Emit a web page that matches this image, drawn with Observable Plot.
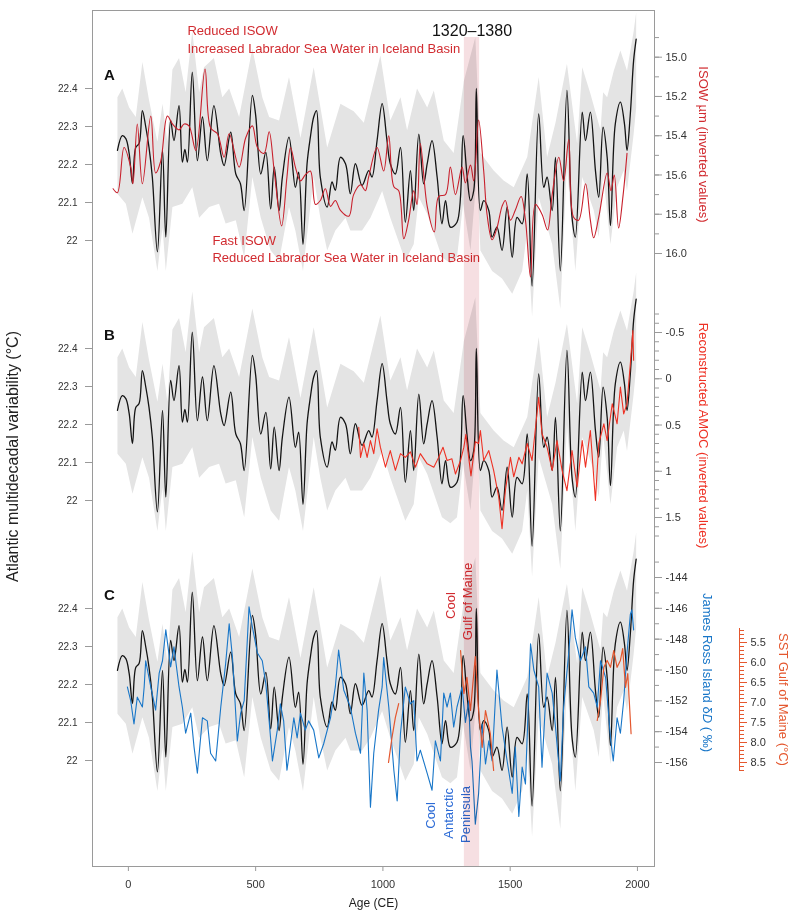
<!DOCTYPE html>
<html><head><meta charset="utf-8">
<script src="https://cdn.jsdelivr.net/npm/d3@7"></script>
<script src="https://cdn.jsdelivr.net/npm/@observablehq/plot@0.6"></script>
<style>
body{margin:0;background:#fff;}
#chart{position:relative;width:794px;height:916px;}
#chart > svg{position:absolute;left:0;top:0;}
</style></head><body><div id="chart"></div>
<script>
// ---------- DATA ----------
const xTicks = [0, 500, 1000, 1500, 2000];
const amvTicks = [22, 22.1, 22.2, 22.3, 22.4];
const isowTicks = [15.0, 15.2, 15.4, 15.6, 15.8, 16.0];
const amocTicks = [-0.5, 0, 0.5, 1, 1.5];
const ddTicks = [-144, -146, -148, -150, -152, -154, -156];
const sstTicks = [5.5, 6.0, 6.5, 7.0, 7.5, 8.0, 8.5];
const panelLetters = ["A", "B", "C"];
const highlight = [{start: 1320, end: 1380}];

// Atlantic multidecadal variability (°C) [year, value]
const amv = [[-43,22.237],[-24,22.276],[-10,22.268],[3,22.229],[16,22.15],[29,22.245],[42,22.255],[55,22.342],[68,22.30],[81,22.245],[94,22.167],[114,21.97],[134,22.237],[147,22.009],[166,22.316],[179,22.263],[199,22.355],[212,22.206],[222,22.24],[232,22.206],[251,22.443],[271,22.21],[291,22.325],[310,22.21],[336,22.355],[363,22.228],[376,22.197],[402,22.285],[422,22.175],[440,22.15],[455,22.079],[487,22.382],[500,22.33],[520,22.175],[540,22.232],[559,22.083],[573,22.193],[592,22.079],[605,22.167],[631,22.272],[656,22.14],[669,22.18],[686,21.99],[702,22.202],[715,22.272],[728,22.325],[739,22.342],[754,22.167],[781,22.088],[800,22.154],[813,22.132],[833,22.219],[853,22.202],[872,22.123],[892,22.202],[918,22.145],[944,22.184],[957,22.167],[977,22.263],[997,22.36],[1016,22.263],[1029,22.202],[1049,22.175],[1069,22.245],[1088,22.048],[1108,22.184],[1121,22.079],[1141,22.28],[1160,22.149],[1174,22.202],[1193,22.263],[1213,22.167],[1232,22.044],[1246,22.105],[1265,22.035],[1291,22.048],[1315,22.276],[1330,22.175],[1344,22.105],[1357,22.132],[1367,22.40],[1383,22.079],[1396,22.105],[1416,22.079],[1429,22.009],[1448,22.035],[1468,21.974],[1488,22.088],[1508,21.956],[1527,22.061],[1547,22.044],[1567,22.175],[1586,21.88],[1612,22.333],[1632,22.14],[1645,22.167],[1665,22.079],[1678,22.219],[1697,21.92],[1723,22.395],[1743,22.061],[1756,22.009],[1783,22.338],[1796,22.263],[1815,22.338],[1835,22.184],[1848,22.114],[1865,22.298],[1881,22.219],[1894,22.039],[1913,22.307],[1933,22.364],[1949,22.307],[1959,22.237],[1972,22.333],[1985,22.474],[1995,22.53]];

// uncertainty envelope of the AMV reconstruction
const amvUpper = [[-43,22.377],[-24,22.40],[3,22.35],[29,22.325],[55,22.47],[81,22.37],[114,22.26],[134,22.36],[153,22.26],[173,22.45],[199,22.48],[225,22.39],[251,22.55],[278,22.39],[297,22.456],[336,22.48],[369,22.377],[396,22.40],[435,22.325],[487,22.505],[526,22.377],[553,22.325],[592,22.316],[631,22.43],[676,22.27],[728,22.456],[781,22.245],[833,22.36],[885,22.34],[925,22.31],[990,22.487],[1029,22.316],[1069,22.377],[1095,22.29],[1134,22.40],[1174,22.35],[1200,22.395],[1239,22.263],[1278,22.23],[1318,22.42],[1363,22.535],[1383,22.23],[1435,22.184],[1474,22.158],[1514,22.14],[1567,22.22],[1612,22.43],[1645,22.22],[1678,22.31],[1723,22.465],[1763,22.255],[1783,22.456],[1815,22.387],[1855,22.29],[1865,22.39],[1881,22.377],[1907,22.447],[1933,22.5],[1959,22.447],[1985,22.55],[1995,22.6]];
const amvLower = [[-43,22.123],[-10,22.097],[16,22.018],[55,22.114],[81,22.06],[114,21.92],[134,22.035],[147,21.92],[173,22.088],[212,22.097],[251,22.14],[278,22.06],[317,22.088],[356,22.097],[382,22.045],[422,22.053],[455,21.956],[487,22.167],[520,22.06],[559,21.974],[592,21.947],[631,22.088],[656,22.026],[686,21.92],[728,22.167],[754,22.06],[781,21.974],[813,22.026],[853,22.06],[872,22.026],[918,22.026],[951,22.06],[997,22.13],[1029,22.06],[1088,21.947],[1121,21.99],[1141,22.114],[1174,22.07],[1232,21.956],[1265,21.94],[1291,21.956],[1315,22.097],[1344,21.974],[1370,22.184],[1383,21.974],[1429,21.92],[1468,21.90],[1508,21.86],[1547,21.92],[1567,22.026],[1586,21.80],[1612,22.114],[1665,21.99],[1697,21.82],[1723,22.2],[1756,21.92],[1783,22.167],[1828,22.08],[1848,22.009],[1865,22.175],[1894,21.99],[1920,22.14],[1946,22.184],[1959,22.13],[1985,22.28],[1995,22.35]];

// ISOW mean sortable silt (µm)
const isow = [[-60,15.67],[-43,15.69],[-17,15.46],[9,15.56],[18,15.645],[35,15.34],[55,15.645],[88,15.30],[107,15.59],[127,15.53],[153,15.30],[173,15.34],[199,15.37],[219,15.34],[238,15.35],[265,15.475],[301,15.06],[323,15.36],[350,15.39],[376,15.51],[396,15.39],[435,15.56],[461,15.41],[487,15.35],[507,15.46],[533,15.49],[553,15.38],[573,15.58],[602,15.86],[623,15.61],[637,15.46],[656,15.56],[676,15.63],[695,15.60],[715,15.58],[735,15.75],[754,15.73],[774,15.67],[794,15.76],[813,15.73],[833,15.78],[866,15.81],[885,15.70],[912,15.65],[931,15.68],[944,15.61],[977,15.46],[1003,15.58],[1023,15.40],[1043,15.66],[1062,15.68],[1082,15.925],[1101,15.83],[1121,15.68],[1134,15.75],[1147,15.44],[1174,15.76],[1202,15.89],[1219,15.71],[1246,15.70],[1265,15.56],[1285,15.70],[1311,15.56],[1324,15.64],[1344,15.55],[1357,15.63],[1376,15.32],[1396,15.58],[1409,15.80],[1429,15.93],[1448,15.87],[1468,15.76],[1481,15.73],[1501,15.83],[1520,15.78],[1543,15.71],[1560,15.83],[1580,16.12],[1599,15.75],[1625,15.80],[1647,15.88],[1665,15.70],[1691,15.51],[1710,15.63],[1730,15.42],[1749,15.815],[1769,15.83],[1796,15.645],[1815,15.83],[1828,15.92],[1848,15.815],[1881,15.59],[1896,15.68],[1909,15.60],[1926,15.87],[1943,15.71],[1959,15.49]];

// Reconstructed AMOC (inverted)
const amoc = [[905,0.524],[912,0.85],[925,0.70],[938,0.85],[951,0.668],[964,0.81],[977,0.54],[990,0.74],[1010,0.956],[1029,0.776],[1049,0.99],[1069,0.81],[1088,0.85],[1108,0.79],[1128,0.956],[1147,0.81],[1174,0.92],[1200,0.956],[1219,0.85],[1236,0.74],[1252,0.884],[1271,0.865],[1285,1.03],[1305,0.884],[1318,0.74],[1326,0.6],[1337,0.85],[1346,1.05],[1363,0.68],[1376,0.70],[1383,0.56],[1396,0.884],[1416,0.776],[1435,0.99],[1455,1.28],[1468,1.62],[1481,1.21],[1501,0.85],[1514,1.06],[1534,0.85],[1547,0.92],[1567,0.70],[1586,0.884],[1612,0.20],[1625,0.595],[1645,0.74],[1665,0.99],[1684,0.668],[1704,0.99],[1723,1.21],[1743,0.776],[1763,1.17],[1783,0.668],[1796,0.956],[1815,0.56],[1835,1.316],[1848,0.70],[1868,0.487],[1881,0.668],[1901,0.27],[1920,0.487],[1933,0.09],[1946,0.38],[1959,0.27],[1972,-0.16],[1982,-0.52],[1985,-0.20]];

// James Ross Island δD (‰)
const jri = [[-4,-151.1],[9,-151.98],[22,-153.5],[35,-151.76],[55,-152.4],[62,-151.1],[68,-149.4],[88,-151.1],[107,-152.6],[121,-150.2],[134,-149.4],[147,-147.4],[166,-149.8],[179,-148.5],[199,-151.1],[212,-152.4],[225,-154.1],[245,-152.8],[258,-155.0],[271,-156.7],[291,-153.1],[310,-153.3],[323,-155.4],[343,-155.9],[363,-152.4],[382,-149.6],[396,-147.0],[409,-149.2],[428,-154.6],[441,-152.8],[455,-151.98],[474,-145.9],[487,-147.2],[507,-148.9],[526,-149.4],[540,-150.9],[553,-153.3],[566,-155.9],[585,-153.9],[597,-152.2],[610,-153.3],[623,-156.5],[637,-154.8],[650,-153.1],[663,-154.4],[676,-152.8],[695,-153.9],[708,-153.3],[728,-153.9],[748,-155.7],[767,-154.8],[794,-153.1],[813,-151.1],[826,-148.7],[846,-151.3],[872,-152.4],[892,-154.1],[912,-155.4],[925,-150.2],[938,-152.6],[951,-158.9],[964,-155.4],[983,-152.6],[997,-151.1],[1003,-149.2],[1023,-152.4],[1043,-156.5],[1056,-158.5],[1069,-154.1],[1088,-151.1],[1108,-152.2],[1121,-151.98],[1134,-155.9],[1147,-155.2],[1174,-156.7],[1193,-157.8],[1206,-154.6],[1226,-155.9],[1239,-151.5],[1252,-152.4],[1265,-151.5],[1278,-153.7],[1291,-152.4],[1305,-151.5],[1311,-151.1],[1324,-153.4],[1337,-152.0],[1344,-155.0],[1350,-155.9],[1363,-160.0],[1376,-158.0],[1390,-153.5],[1403,-156.1],[1416,-154.6],[1429,-155.9],[1448,-150.0],[1468,-153.7],[1488,-155.9],[1508,-158.0],[1520,-155.0],[1534,-159.5],[1547,-156.3],[1560,-157.4],[1580,-148.3],[1593,-150.0],[1612,-151.1],[1625,-156.3],[1645,-150.2],[1665,-151.5],[1678,-153.7],[1697,-157.2],[1710,-152.4],[1730,-148.9],[1743,-146.1],[1756,-147.9],[1776,-149.4],[1796,-148.5],[1809,-151.1],[1828,-151.5],[1842,-152.4],[1855,-149.4],[1875,-150.5],[1894,-154.4],[1905,-155.9],[1920,-153.1],[1933,-154.1],[1946,-151.98],[1959,-148.9],[1972,-146.4],[1978,-146.1],[1985,-147.4]];

// SST Gulf of Maine (°C), visible segments
const sstSeg1 = [[1022,8.5],[1035,7.9],[1049,7.37],[1062,7.03]];
const sstSeg2 = [[1305,5.7],[1318,6.78],[1330,6.37],[1344,7.2],[1363,5.85],[1376,7.2],[1390,8.12],[1403,7.2],[1422,7.78],[1435,8.7]];
const sstSeg3 = [[1842,7.45],[1855,6.95],[1868,6.12],[1881,5.95],[1894,6.12],[1907,5.7],[1920,6.12],[1933,5.95],[1942,5.65],[1953,6.62],[1962,6.28],[1970,7.2],[1975,7.78]];

// annotations (year, axis value, text)
const isowNotes = [[232,14.864,"Reduced ISOW"],[232,14.956,"Increased Labrador Sea Water in Iceland Basin"],[330,15.934,"Fast ISOW"],[330,16.02,"Reduced Labrador Sea Water in Iceland Basin"]];
const gulfNotes = [[1265,4.575,"Cool"],[1332,4.475,"Gulf of Maine"]];
const peninsulaNotes = [[1187,-159.43,"Cool"],[1257,-159.3,"Antarctic"],[1324,-159.37,"Peninsula"]];

// ---------- STYLE ----------
const W = 794, H = 916;
const FONT = "'Liberation Sans', Arial, sans-serif";
const C_BLACK = "#141414", C_BAND = "#e4e4e4", C_AXIS = "#9a9a9a", C_TXT = "#333";
const C_ISOW = "#c8202c", C_AMOC = "#ee3124", C_JRI = "#1876c8", C_SST = "#e4572e";
const C_NOTE_RED = "#d12b30", C_NOTE_BLUE = "#2c6bd6";
const X = {domain: [-141, 2067], range: [92, 654], axis: null};

const root = document.getElementById("chart");
function add(opts, extraStyle = {}) {
  const svg = Plot.plot({
    width: W, height: H, marginLeft: 92, marginRight: 140, marginTop: 10, marginBottom: 50,
    ...opts, x: X,
    style: {background: "transparent", fontFamily: FONT, overflow: "visible", ...extraStyle}
  });
  root.appendChild(svg);
  return svg;
}

// base: frame, x axis, left title
add({
  marks: [
    Plot.frame({stroke: C_AXIS}),
    Plot.axisX({ticks: xTicks, tickFormat: d => String(d), tickSize: 5, tickPadding: 9, fontSize: 11, stroke: C_AXIS, color: C_TXT, label: null}),
    Plot.text(["Age (CE)"], {frameAnchor: "bottom", dy: 40, fontSize: 12, fill: "#222"}),
    Plot.text(["Atlantic multidecadal variability (°C)"], {frameAnchor: "left", dx: -80, dy: 18, rotate: -90, textAnchor: "middle", fontSize: 16, fill: "#222", fontFamily: "'Liberation Sans Narrow', 'Liberation Sans', Arial"})
  ]
});

const bandPoly = amvUpper.concat(amvLower.slice().reverse());

function leftPanel(letter, range) {
  add({
    y: {domain: [22, 22.4], range, axis: null},
    marks: [
      Plot.line(bandPoly, {x: d => d[0], y: d => d[1], fill: C_BAND, stroke: "none"}),
      Plot.line(amv, {x: d => d[0], y: d => d[1], stroke: C_BLACK, strokeWidth: 1.3, curve: "catmull-rom"}),
      Plot.axisY({anchor: "left", ticks: amvTicks, tickFormat: d => d === 22 ? "22" : d.toFixed(1), tickSize: 7, tickPadding: 8, fontSize: 10, stroke: C_AXIS, color: C_TXT, label: null}),
      Plot.text([letter], {x: -96, y: 22.435, text: d => d, textAnchor: "start", fontWeight: "bold", fontSize: 15, fill: "#111"})
    ]
  });
}
function rightAxis(ticks, fmt, minor, color) {
  return [
    Plot.axisY({anchor: "right", ticks: minor, tickFormat: () => "", tickSize: 4, stroke: color || C_AXIS, label: null}),
    Plot.axisY({anchor: "right", ticks, tickFormat: fmt, tickSize: 7, tickPadding: 4, fontSize: 11, stroke: color || C_AXIS, color: C_TXT, label: null})
  ];
}
function sideTitle(text, dx, color) {
  return Plot.text([text], {frameAnchor: "right", dx, rotate: 90, textAnchor: "middle", fontSize: 13, fill: color});
}

// Panel A
leftPanel(panelLetters[0], [240, 88]);
add({
  marginTop: 36, marginBottom: 664,
  y: {domain: [15, 16], range: [56.7, 253], axis: null},
  marks: [
    Plot.line(isow, {x: d => d[0], y: d => d[1], stroke: C_ISOW, strokeWidth: 1.1, curve: "catmull-rom"}),
    ...rightAxis(isowTicks, d => d.toFixed(1), d3.range(14.9, 16.05, 0.1)),
    sideTitle("ISOW µm (inverted values)", 49, C_NOTE_RED),
    Plot.text(isowNotes, {x: d => d[0], y: d => d[1], text: d => d[2], textAnchor: "start", fontSize: 13, fill: C_NOTE_RED})
  ]
});

// Panel B
leftPanel(panelLetters[1], [500, 348]);
add({
  marginTop: 322, marginBottom: 368,
  y: {domain: [-0.5, 1.5], range: [332, 517], axis: null},
  marks: [
    Plot.line(amoc, {x: d => d[0], y: d => d[1], stroke: C_AMOC, strokeWidth: 1.1}),
    ...rightAxis(amocTicks, d => String(d), d3.range(-0.7, 1.75, 0.1)),
    sideTitle("Reconstructed AMOC (inverted values)", 49, C_AMOC)
  ]
});

// Panel C
leftPanel(panelLetters[2], [760, 608]);
const jriSvg = add({
  marginTop: 592, marginBottom: 164,
  y: {domain: [-144, -156], range: [577, 762], axis: null},
  marks: [
    Plot.line(jri, {x: d => d[0], y: d => d[1], stroke: C_JRI, strokeWidth: 1.1}),
    ...rightAxis(ddTicks, d => String(d), d3.range(-143, -156.5, -1)),
    sideTitle("James Ross Island δD ( ‰)", 53, C_JRI),
    Plot.text(peninsulaNotes, {x: d => d[0], y: d => d[1], text: d => d[2], rotate: -90, textAnchor: "middle", fontSize: 13, fill: C_NOTE_BLUE})
  ]
});
jriSvg.querySelectorAll("text").forEach(t => {
  if (t.textContent.includes("δD")) t.innerHTML = 'James Ross Island δ<tspan font-style="italic">D</tspan> ( ‰)';
});
const sst = [...sstSeg1.map(d => [...d, 1]), ...sstSeg2.map(d => [...d, 2]), ...sstSeg3.map(d => [...d, 3])];
add({
  marginTop: 628, marginBottom: 146, marginRight: 55,
  y: {domain: [5.5, 8.5], range: [642, 762], axis: null},
  marks: [
    Plot.line(sst, {x: d => d[0], y: d => d[1], z: d => d[2], stroke: C_SST, strokeWidth: 1.2}),
    Plot.frame({anchor: "right", stroke: C_SST}),
    ...rightAxis(sstTicks, d => d.toFixed(1), d3.range(5.2, 8.75, 0.1), C_SST),
    sideTitle("SST Gulf of Maine (°C)", 44, C_SST),
    Plot.text(gulfNotes, {x: d => d[0], y: d => d[1], text: d => d[2], rotate: -90, textAnchor: "middle", fontSize: 13, fill: C_NOTE_RED})
  ]
});

// highlight period 1320–1380 (multiplied over everything)
add({
  marginTop: 37,
  marks: [
    Plot.rect(highlight, {x1: "start", x2: "end", fill: "#f6dfe2"}),
    Plot.text(highlight, {x: d => (d.start + d.end) / 2, text: d => `${d.start}–${d.end}`, frameAnchor: "top", dy: -13, fontSize: 16, fill: "#111"})
  ]
}, {mixBlendMode: "multiply"});
</script></body></html>
